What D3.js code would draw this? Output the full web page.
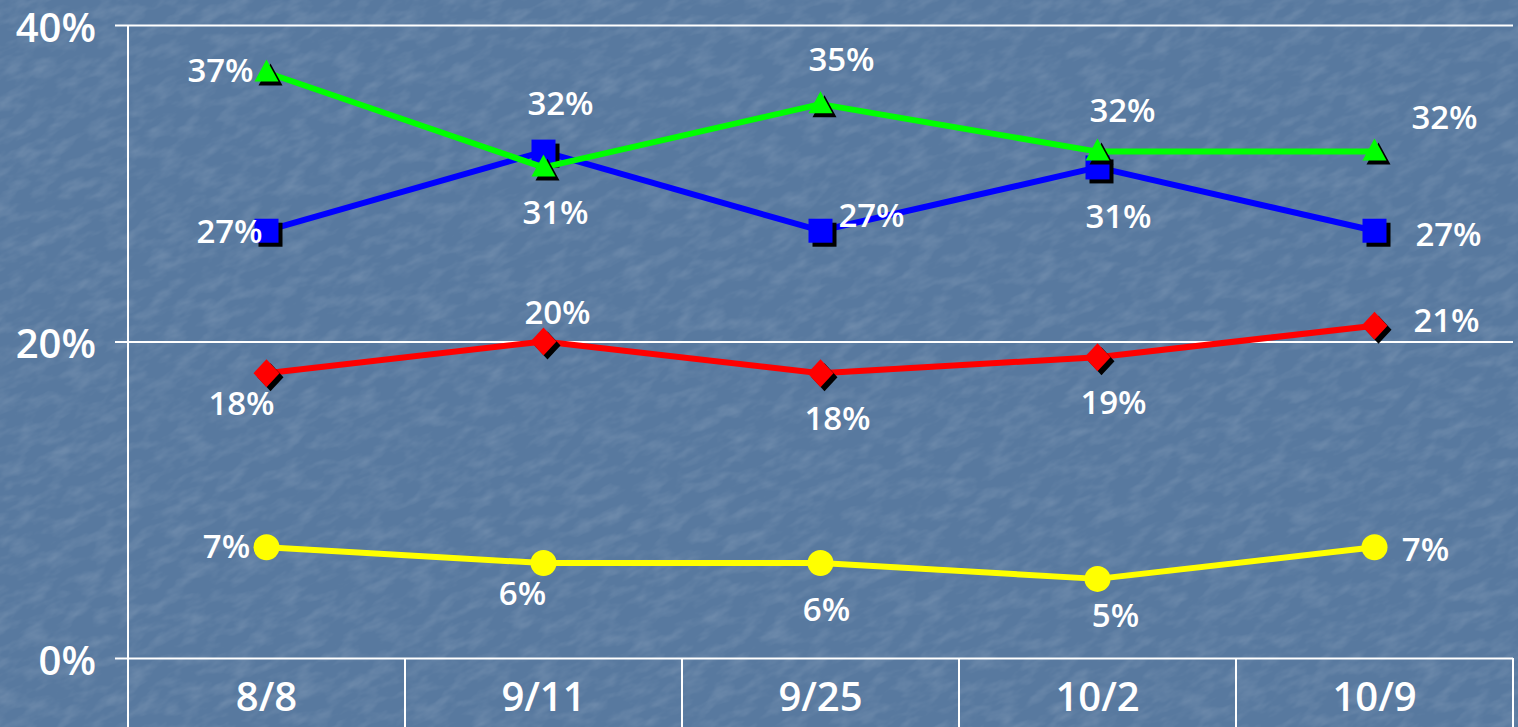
<!DOCTYPE html>
<html>
<head>
<meta charset="utf-8">
<script src="https://cdn.jsdelivr.net/npm/d3@7"></script>
<style>
  html, body { margin: 0; padding: 0; background: #5d7ea6; overflow: hidden; }
  svg { display: block; }
  text { font-family: "Open Sans", "Noto Sans", sans-serif; fill: #ffffff; }
</style>
</head>
<body>
<svg id="chart" width="1518" height="727"></svg>
<script>
// ---- data ----
const categories = ["8/8", "9/11", "9/25", "10/2", "10/9"];
const greenValues  = [37, 31, 35, 32, 32];
const blueValues   = [27, 32, 27, 31, 27];
const redValues    = [18, 20, 18, 19, 21];
const yellowValues = [7, 6, 6, 5, 7];
const yTickValues  = [0, 20, 40];
const yTickLabels  = ["0%", "20%", "40%"];

// ---- label placement (offsets from the marker, in px) ----
const greenLabelOffsets  = [[-46, -3], [12, 44], [21, -46], [25, -42], [70, -35]];
const blueLabelOffsets   = [[-37, 0], [17, -49], [51, -16], [21, 48], [74, 3]];
const redLabelOffsets    = [[-25, 29], [14, -30], [17, 44], [16, 44], [72, -6]];
const yellowLabelOffsets = [[-40, -2], [-21, 29], [6, 45], [18, 36], [51, 1]];

const series = [
  { values: yellowValues, color: "#ffff00", shape: "circle",   offsets: yellowLabelOffsets, shadow: false },
  { values: redValues,    color: "#ff0000", shape: "diamond",  offsets: redLabelOffsets,    shadow: true },
  { values: blueValues,   color: "#0000ff", shape: "square",   offsets: blueLabelOffsets,   shadow: true },
  { values: greenValues,  color: "#00ff00", shape: "triangle", offsets: greenLabelOffsets,  shadow: true }
];

(function () {
const svg = d3.select("#chart");
const W = 1518, H = 727;

// background texture
const defs = svg.append("defs");
const f = defs.append("filter").attr("id", "tex").attr("filterUnits", "userSpaceOnUse")
  .attr("x", -W).attr("y", -H).attr("width", 3 * W).attr("height", 3 * H);
f.append("feTurbulence").attr("type", "fractalNoise").attr("baseFrequency", "0.04 0.09").attr("numOctaves", 3).attr("seed", 7).attr("result", "n");
f.append("feColorMatrix").attr("in", "n").attr("type", "matrix")
  .attr("values", "0 0 0 0 1  0 0 0 0 1  0 0 0 0 1  1.2 0 0 0 -0.5");
svg.append("rect").attr("width", W).attr("height", H).attr("fill", "#58799f");
svg.append("rect").attr("x", -W).attr("y", -H).attr("width", 3 * W).attr("height", 3 * H)
  .attr("filter", "url(#tex)").attr("opacity", 0.22)
  .attr("transform", `rotate(-25 ${W / 2} ${H / 2})`);

const pLeft = 128, pRight = 1513, pTop = 25, pBottom = 658;
const x = d3.scaleBand().domain(categories).range([pLeft, pRight]).padding(0);
const y = d3.scaleLinear().domain([0, 40]).range([pBottom, pTop]);

// y gridlines + ticks
const yAxis = d3.axisLeft(y).tickValues(yTickValues)
  .tickFormat((d, i) => yTickLabels[i])
  .tickSize(-(pRight - pLeft)).tickPadding(19);
const gy = svg.append("g").attr("transform", `translate(${pLeft},0)`).call(yAxis);
gy.select(".domain").remove();
gy.selectAll(".tick line").attr("stroke", "#fff").attr("stroke-width", 2).attr("x1", -13).attr("x2", pRight - pLeft);
gy.selectAll(".tick text").attr("fill", "#fff").style("font-size", "40px").style("font-weight", 600)
  .attr("x", -32).attr("y", 2).attr("dy", "0.36em");

// y-axis vertical line
svg.append("line").attr("x1", pLeft).attr("x2", pLeft).attr("y1", pTop).attr("y2", H)
  .attr("stroke", "#fff").attr("stroke-width", 2);

// x-axis category dividers and labels
const bounds = categories.map(c => x(c)).concat([x(categories[categories.length - 1]) + x.bandwidth()]);
svg.append("g").selectAll("line").data(bounds.slice(1)).join("line")
  .attr("x1", d => d).attr("x2", d => d).attr("y1", pBottom).attr("y2", H)
  .attr("stroke", "#fff").attr("stroke-width", 2);
svg.append("g").selectAll("text").data(categories).join("text")
  .attr("x", d => x(d) + x.bandwidth() / 2).attr("y", 695)
  .attr("text-anchor", "middle").attr("dominant-baseline", "central")
  .style("font-size", "40px").style("font-weight", 600)
  .text(d => d);

const cx = i => x(categories[i]) + x.bandwidth() / 2;

function shapePath(shape) {
  if (shape === "triangle") return "M0,-13 L12,9 L-12,9 Z";
  if (shape === "square") return "M-12,-12 L12,-12 L12,12 L-12,12 Z";
  if (shape === "diamond") return "M0,-14 L13,0 L0,14 L-13,0 Z";
  return null;
}

const line = d3.line().x((d, i) => cx(i)).y(d => y(d));

series.forEach(s => {
  const g = svg.append("g");
  g.append("path").datum(s.values).attr("d", line)
    .attr("fill", "none").attr("stroke", s.color).attr("stroke-width", 6).attr("stroke-linejoin", "round");
  const pts = g.selectAll("g.pt").data(s.values).join("g").attr("class", "pt")
    .attr("transform", (d, i) => `translate(${cx(i)},${y(d)})`);
  if (s.shape === "circle") {
    pts.append("circle").attr("r", 13).attr("fill", s.color);
  } else {
    if (s.shadow) pts.append("path").attr("d", shapePath(s.shape)).attr("fill", "#000").attr("transform", "translate(4,4)");
    pts.append("path").attr("d", shapePath(s.shape)).attr("fill", s.color);
  }
});

// data labels (drawn after all lines)
series.forEach(s => {
  svg.append("g").selectAll("text").data(s.values).join("text")
    .attr("x", (d, i) => cx(i) + s.offsets[i][0])
    .attr("y", (d, i) => y(d) + s.offsets[i][1])
    .attr("text-anchor", "middle").attr("dominant-baseline", "central")
    .style("font-size", "33px").style("font-weight", 600)
    .text(d => d + "%");
});
})();
</script>
</body>
</html>
